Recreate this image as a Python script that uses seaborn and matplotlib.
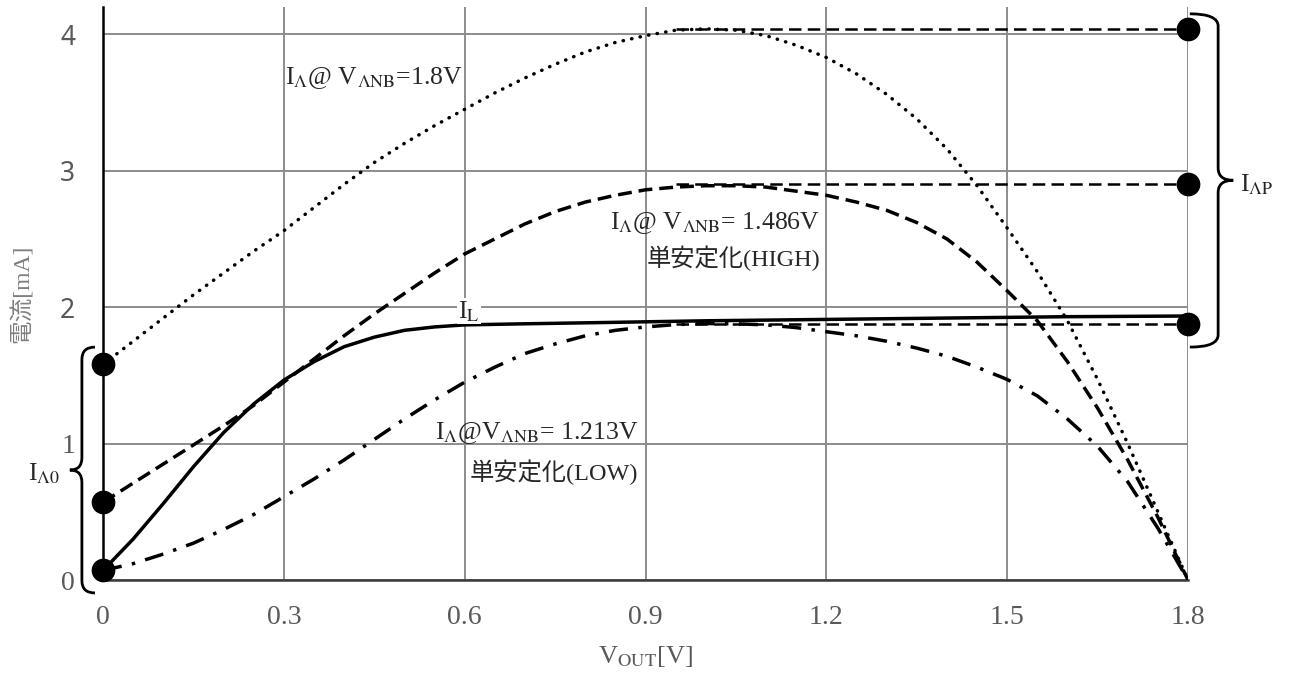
import numpy as np
import pandas as pd
import matplotlib
matplotlib.use("Agg")
import matplotlib.pyplot as plt
import seaborn as sns
from matplotlib.path import Path
from matplotlib.patches import PathPatch

# ---------------- data ----------------
v_18 = [0.0, 0.05, 0.1, 0.15, 0.2, 0.25, 0.3, 0.35, 0.4, 0.45, 0.5, 0.55, 0.6, 0.65, 0.7,
        0.75, 0.8, 0.85, 0.9, 0.95, 1.0, 1.05, 1.1, 1.15, 1.2, 1.25, 1.3, 1.35, 1.4, 1.45,
        1.5, 1.55, 1.6, 1.65, 1.7, 1.75, 1.8]
i_18 = [1.58, 1.75, 1.92, 2.09, 2.25, 2.41, 2.56, 2.73, 2.90, 3.06, 3.20, 3.33, 3.45, 3.57, 3.68,
        3.78, 3.87, 3.94, 3.99, 4.03, 4.04, 4.03, 3.99, 3.92, 3.83, 3.71, 3.56, 3.38, 3.16, 2.89,
        2.58, 2.26, 1.90, 1.47, 1.00, 0.50, 0.0]

v_1486 = [0.0, 0.05, 0.1, 0.15, 0.2, 0.25, 0.3, 0.35, 0.4, 0.45, 0.5, 0.55, 0.6, 0.65, 0.7,
          0.75, 0.8, 0.85, 0.9, 0.95, 1.0, 1.05, 1.1, 1.15, 1.2, 1.25, 1.3, 1.35, 1.4, 1.45,
          1.5, 1.55, 1.6, 1.65, 1.7, 1.75, 1.8]
i_1486 = [0.57, 0.71, 0.85, 0.99, 1.13, 1.28, 1.45, 1.62, 1.79, 1.95, 2.10, 2.25, 2.39, 2.50, 2.61,
          2.70, 2.77, 2.82, 2.86, 2.88, 2.89, 2.89, 2.88, 2.85, 2.82, 2.77, 2.71, 2.62, 2.50, 2.33,
          2.12, 1.90, 1.60, 1.26, 0.88, 0.46, 0.0]

v_L = [0.0, 0.05, 0.1, 0.15, 0.2, 0.25, 0.3, 0.35, 0.4, 0.45, 0.5, 0.55, 0.6, 0.7, 0.8,
       1.0, 1.2, 1.4, 1.6, 1.8]
i_L = [0.07, 0.30, 0.56, 0.83, 1.08, 1.29, 1.465, 1.60, 1.71, 1.78, 1.83, 1.855, 1.87, 1.878, 1.885,
       1.90, 1.91, 1.92, 1.93, 1.935]

v_1213 = [0.0, 0.05, 0.1, 0.15, 0.2, 0.25, 0.3, 0.35, 0.4, 0.45, 0.5, 0.55, 0.6, 0.65, 0.7,
          0.75, 0.8, 0.85, 0.9, 0.95, 1.0, 1.05, 1.1, 1.15, 1.2, 1.25, 1.3, 1.35, 1.4, 1.45,
          1.5, 1.55, 1.6, 1.65, 1.7, 1.75, 1.8]
i_1213 = [0.07, 0.12, 0.19, 0.27, 0.37, 0.48, 0.61, 0.74, 0.88, 1.03, 1.18, 1.32, 1.45, 1.56, 1.66,
          1.73, 1.79, 1.83, 1.855, 1.872, 1.88, 1.878, 1.87, 1.85, 1.82, 1.79, 1.75, 1.70, 1.64, 1.56,
          1.47, 1.35, 1.18, 0.98, 0.72, 0.38, 0.0]

# start points (I_A0) and peak points (I_AP)
i_a0 = [1.58, 0.57, 0.07]
v_a0 = [0.0, 0.0, 0.0]
i_ap = [4.04, 2.90, 1.88]
v_ap = [1.8, 1.8, 1.8]
v_ap_from = [0.95, 0.95, 0.95]

x_ticks = [0, 0.3, 0.6, 0.9, 1.2, 1.5, 1.8]
x_ticklabels = ["0", "0.3", "0.6", "0.9", "1.2", "1.5", "1.8"]
y_ticks = [0, 1, 2, 3, 4]
y_ticklabels = ["0", "1", "2", "3", "4"]

# ---------------- style ----------------
sns.set_style("white")
plt.rcParams["font.family"] = ["Liberation Serif", "Noto Sans CJK JP", "DejaVu Sans"]
plt.rcParams["mathtext.fontset"] = "stix"

W, H = 1290, 677
fig = plt.figure(figsize=(W / 100, H / 100), dpi=100)
ax = fig.add_axes([103 / W, 97 / H, 1085 / W, 573 / H])

ax.set_xlim(0, 1.8)
ax.set_ylim(0, 4.2)
ax.set_axisbelow(True)
ax.grid(True, color="#8c8c8c", lw=1.4)

lw = 2.5
df18 = pd.DataFrame({"v": v_18, "i": i_18})
df1486 = pd.DataFrame({"v": v_1486, "i": i_1486})
dfL = pd.DataFrame({"v": v_L, "i": i_L})
df1213 = pd.DataFrame({"v": v_1213, "i": i_1213})

sns.lineplot(data=df18, x="v", y="i", ax=ax, color="black", lw=lw,
             linestyle=(0, (0.1, 2.4)), dash_capstyle="round", zorder=3)
sns.lineplot(data=df1486, x="v", y="i", ax=ax, color="black", lw=lw,
             linestyle=(0, (4, 2)), zorder=3)
sns.lineplot(data=dfL, x="v", y="i", ax=ax, color="black", lw=lw,
             linestyle="-", zorder=3)
sns.lineplot(data=df1213, x="v", y="i", ax=ax, color="black", lw=lw,
             linestyle=(0, (5.5, 3, 1, 3)), zorder=3)

# horizontal reference lines to I_AP
for x0, x1, yv in zip(v_ap_from, v_ap, i_ap):
    ax.plot([x0, x1], [yv, yv], color="black", lw=1.8,
            linestyle=(0, (5, 2.5)), zorder=3)

# markers
sns.scatterplot(x=v_a0 + v_ap, y=i_a0 + i_ap, ax=ax, color="black", s=250,
                edgecolor="black", zorder=5, clip_on=False, legend=False)

# spines / ticks
for s in ["top", "right"]:
    ax.spines[s].set_visible(False)
ax.spines["left"].set_color("black")
ax.spines["left"].set_linewidth(1.8)
ax.spines["bottom"].set_color("#3a3a3a")
ax.spines["bottom"].set_linewidth(1.8)
ax.set_xticks(x_ticks)
ax.set_xticklabels(x_ticklabels)
ax.set_yticks(y_ticks)
ax.set_yticklabels(y_ticklabels)
ax.tick_params(axis="both", length=0, labelsize=20, labelcolor="#595959")
ax.tick_params(axis="x", pad=18)
ax.tick_params(axis="y", pad=20)
for lab in ax.get_yticklabels()[2:]:
    lab.set_fontfamily(["Noto Sans", "DejaVu Sans"])
    lab.set_fontsize(19)

ax.set_xlabel(r"V$_{\mathrm{OUT}}$[V]", fontsize=19, color="#595959", labelpad=10)
ax.set_ylabel("電流[mA]", fontsize=17, color="#7f7f7f")
ax.yaxis.set_label_coords(-0.064, 0.5)

# annotations
fs = 18.5
fj = 17.5
ax.text(0.302, 3.68, r"I$_{\Lambda}$@ V$_{\mathrm{\Lambda NB}}$=1.8V", fontsize=fs,
        ha="left", va="center")
ax.text(1.19, 2.62, r"I$_{\Lambda}$@ V$_{\mathrm{\Lambda NB}}$= 1.486V", fontsize=fs,
        ha="right", va="center")
ax.text(1.19, 2.36, "単安定化(HIGH)", fontsize=fj, ha="right", va="center")
ax.text(0.888, 1.08, r"I$_{\Lambda}$@V$_{\mathrm{\Lambda NB}}$= 1.213V", fontsize=fs,
        ha="right", va="center")
ax.text(0.888, 0.79, "単安定化(LOW)", fontsize=fj, ha="right", va="center")
ax.text(0.607, 1.97, r"I$_{\mathrm{L}}$", fontsize=fs, ha="center", va="center",
        bbox=dict(fc="white", ec="none", pad=0.5))
ax.text(-0.071, 0.78, r"I$_{\mathrm{\Lambda 0}}$", fontsize=fs, ha="right", va="center")
ax.text(1.886, 2.9, r"I$_{\mathrm{\Lambda P}}$", fontsize=fs, ha="left", va="center")


def brace(ax, x_end, x_mid, x_tip, y_top, y_bot, y_c, r):
    verts = [
        (x_end, y_top), (x_mid, y_top), (x_mid, y_top - r),
        (x_mid, y_c + r),
        (x_mid, y_c), (x_tip, y_c),
        (x_mid, y_c), (x_mid, y_c - r),
        (x_mid, y_bot + r),
        (x_mid, y_bot), (x_end, y_bot),
    ]
    codes = [Path.MOVETO, Path.CURVE3, Path.CURVE3, Path.LINETO,
             Path.CURVE3, Path.CURVE3, Path.CURVE3, Path.CURVE3,
             Path.LINETO, Path.CURVE3, Path.CURVE3]
    p = PathPatch(Path(verts, codes), fc="none", ec="black", lw=2.0,
                  clip_on=False, zorder=4)
    ax.add_patch(p)


brace(ax, -0.0133, -0.035, -0.055, 1.707, -0.095, 0.806, 0.09)
brace(ax, 1.803, 1.85, 1.875, 4.15, 1.707, 2.93, 0.09)

fig.savefig("out.png", dpi=100)
